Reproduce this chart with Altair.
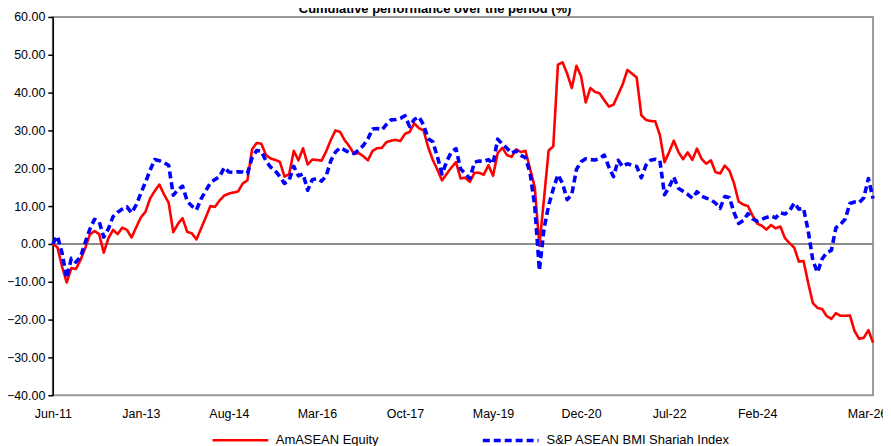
import altair as alt
import pandas as pd

title_text = "Cumulative performance over the period (%)"
series_names = ["AmASEAN Equity", "S&P ASEAN BMI Shariah Index"]

# monthly cumulative performance (%), Jun-11 .. Mar-26
amasean = [
    0, -0.9, -6, -10.2, -6.4, -6.6, -4.2, -1.1, 2.5, 3.4,
    2.6, -2.3, 1.5, 3.7, 2.6, 4.3, 3.7, 1.7, 4.4, 7.0,
    8.5, 12, 14, 15.7, 13.1, 10.9, 3.1, 5.3, 6.8, 3.2,
    2.8, 1.2, 4.1, 7, 10, 9.8, 11.5, 12.8, 13.3, 13.6,
    13.9, 16, 16.8, 25, 26.7, 26.5, 23.5, 22.6, 22.2, 21.7,
    17.8, 18.4, 24.6, 22.1, 25.3, 21, 22.3, 22.2, 22, 24.5,
    27.5, 30, 29.6, 27.4, 25.8, 23.8, 24, 23.2, 22.1, 24.6,
    25.3, 25.4, 26.9, 27.3, 27.5, 27.2, 29.1, 29.6, 31.9, 30.6,
    30, 25.6, 22.2, 19.6, 16.8, 18.5, 20.2, 21.6, 17.3, 17.5,
    16.4, 18.8, 18.8, 18.3, 20.8, 18, 24, 25.4, 23.5, 23,
    25, 24.3, 24.6, 19.8, 15, -0.5, 12, 24.7, 25.8, 47.4,
    48, 45, 41.2, 47.1, 44.3, 37.4, 41.2, 40.2, 39.8, 38,
    36.3, 36.8, 39.5, 42.3, 46, 45, 44, 34, 32.8, 32.5,
    32.4, 28.8, 21.6, 24.3, 27.3, 24.3, 22.4, 24.2, 22.2, 25.2,
    22.5, 21.2, 22.1, 19, 18.6, 20.7, 19.4, 16, 11.2, 10.4,
    10, 7.5, 5.4, 4.8, 3.8, 5, 4.1, 4.6, 1.5, 0.2,
    -1, -4.7, -4.5, -10.3, -15.6, -16.9, -17.2, -19.1, -19.8, -18.3,
    -19, -19, -18.9, -23, -25.1, -24.8, -22.8, -26.1,
]
sp_asean = [
    0, 2.1, -2.4, -9, -3.8, -4.8, -3.4, 0.4, 3.9, 6.5,
    5.9, 1.8, 4, 7.2, 8.4, 9.2, 9.8, 8.2, 10.3, 13.4,
    16.3, 19.5, 22.3, 22, 21.5, 20.8, 12.9, 14.3, 15.3, 11.3,
    10, 9, 11.9, 14, 16.2, 17, 17.8, 20.2, 19, 18.9,
    19.1, 19, 18.6, 22.8, 24.7, 24.5, 22, 20.3, 19.3, 17.8,
    16, 16.8, 20.5, 18, 18.5, 14.2, 17, 17.3, 16.6, 18,
    22, 24.3, 25.4, 24.8, 24.1, 23.9, 24.8, 26, 27.8, 30.4,
    30.5, 30.1, 31.6, 32.8, 32.9, 33.2, 33.9, 31, 32.9, 33.6,
    31.5, 27.8, 27, 23, 18.5, 21.8, 24.3, 25.2, 19.8, 18.6,
    17.3, 21.6, 21.9, 21.8, 22.3, 21.2, 27.7, 26.4, 25.3, 24,
    24.6, 23.4, 22.8, 18.7, 10, -7, 4, 10.2, 14.5, 18.3,
    16, 11.7, 13.1, 19.7, 21.7, 22.5, 22.3, 22.2, 22.6, 23.5,
    20.3, 17.8, 22.1, 20.4, 21.2, 20.8, 20.5, 17.5, 20.8, 22.1,
    22.4, 22, 13, 15, 17.7, 14.7, 13.9, 13.1, 12.1, 13.8,
    12.6, 12.1, 11.7, 10.8, 9.4, 12.5, 12.3, 8.3, 5.4, 6.2,
    8, 6.6, 6, 6.5, 7, 7.4, 6.9, 8.2, 7.9, 8.8,
    10.8, 9.2, 9.4, 3.5, -4.3, -7.5, -4, -2.3, -1.7, 4.3,
    5.2, 6.6, 10.7, 11.1, 10.9, 12.2, 17.3, 12,
]

tick_months = [0, 19, 38, 57, 76, 95, 114, 133, 152, 177]
tick_labels = ["Jun-11", "Jan-13", "Aug-14", "Mar-16", "Oct-17",
               "May-19", "Dec-20", "Jul-22", "Feb-24", "Mar-26"]
y_ticks = [-40, -30, -20, -10, 0, 10, 20, 30, 40, 50, 60]
zero_line = [0]

rows = []
for name, vals in zip(series_names, [amasean, sp_asean]):
    for i, v in enumerate(vals):
        rows.append({"m": i, "value": v, "series": name})
df = pd.DataFrame(rows)

label_expr = ("[" + ",".join("'%s'" % l for l in tick_labels) + "][indexof(["
              + ",".join(str(t) for t in tick_months) + "], datum.value)]")

yscale = alt.Scale(domain=[-40, 60], nice=False, zero=False)

x_enc = alt.X("m:Q", scale=alt.Scale(domain=[0, len(amasean) - 1], nice=False, zero=False),
              axis=alt.Axis(values=tick_months, labelExpr=label_expr, ticks=False, domain=False,
                            grid=False, labelPadding=12, labelFontSize=12.5, labelColor="#000000",
                            labelFlush=False, labelOverlap=False, title=None,
                            labelOffset={"condition": {"test": "datum.value == %d" % tick_months[-1],
                                                       "value": -6}, "value": 0}))
y_axis = alt.Axis(values=y_ticks, format=".2f", grid=False, domainColor="#000000",
                  domainWidth=1.5, tickColor="#000000", tickSize=5, tickWidth=1.5,
                  labelPadding=3, labelFontSize=12.5, labelColor="#000000",
                  labelOverlap=False, labelFlush=False, title=None)
y_enc = alt.Y("value:Q", scale=yscale, axis=y_axis)

zero = alt.Chart(pd.DataFrame({"value": zero_line})).mark_rule(
    color="#8c8c8c", strokeWidth=2).encode(y=y_enc)

lines = alt.Chart(df).mark_line(strokeJoin="round").encode(
    x=x_enc,
    y=y_enc,
    color=alt.Color("series:N", scale=alt.Scale(domain=series_names, range=["#ff0000", "#0000ff"]),
                    legend=alt.Legend(title=None)),
    strokeDash=alt.StrokeDash("series:N", scale=alt.Scale(domain=series_names, range=[[1, 0], [7, 4]]),
                              legend=alt.Legend(title=None)),
    strokeWidth=alt.StrokeWidth("series:N", scale=alt.Scale(domain=series_names, range=[2.6, 3.6]),
                                legend=None),
)

title = alt.Chart(alt.Data(values=[{"t": title_text}])).mark_text(
    fontSize=13, fontWeight="bold", align="center", baseline="alphabetic", color="#000000"
).encode(text="t:N", x=alt.value(384), y=alt.value(-4))

chart = alt.layer(zero, lines, title).properties(
    width=824, height=380,
    autosize=alt.AutoSizeParams(type="none"),
    padding={"left": 45, "top": 8, "right": 10, "bottom": 50},
).configure(font="Liberation Sans").configure_view(
    stroke="#9a9a9a", strokeWidth=2
).configure_legend(
    orient="none", legendX=159, legendY=395, direction="horizontal",
    symbolType="stroke", symbolSize=3136, symbolStrokeWidth=3,
    labelFontSize=13, labelColor="#000000", labelOffset=6, columnPadding=96,
    padding=0, labelLimit=400
)

chart.save("out.html", embed_options={"renderer": "svg", "actions": False})
